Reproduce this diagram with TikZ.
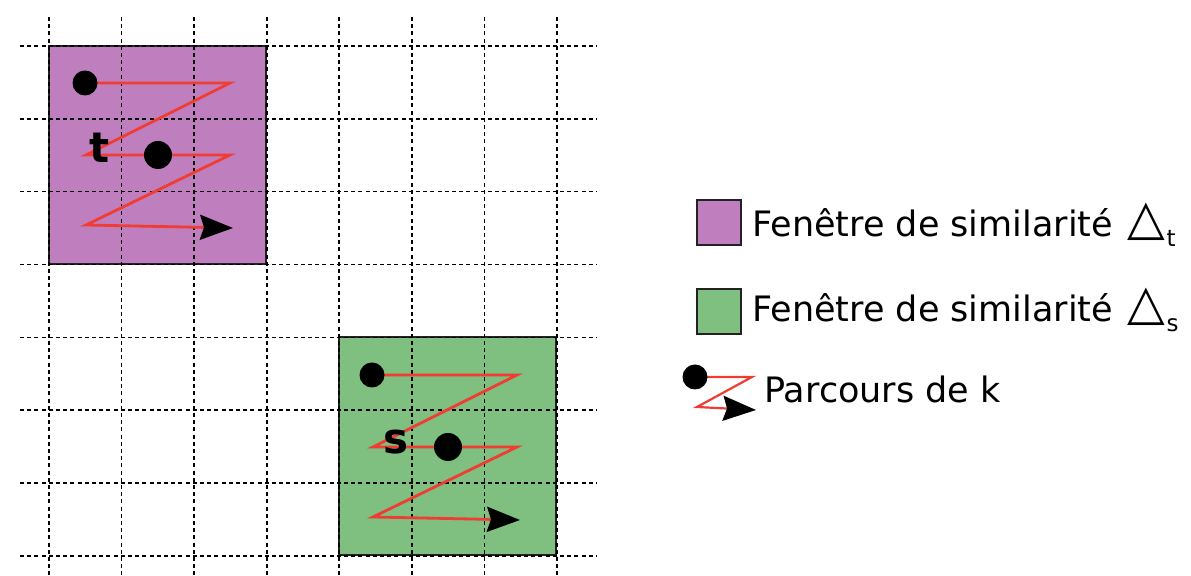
\documentclass[tikz,border=0pt]{standalone}
\usepackage{fontspec}
\setmainfont{DejaVu Sans}
\usetikzlibrary{arrows.meta}
\definecolor{wpurple}{HTML}{BF7FBF}
\definecolor{wgreen}{HTML}{7FBF7F}
\definecolor{zred}{HTML}{F03C32}
\definecolor{edgegray}{HTML}{222222}
\newcommand{\tridelta}{\raisebox{1pt}{\scalebox{1.4}[1.4]{△}}}
\begin{document}
\begin{tikzpicture}[x=0.5pt,y=-0.5pt,
  gridline/.style={black, line width=0.8pt, dash pattern=on 2pt off 1.6pt},
  winbox/.style={draw=edgegray, line width=0.8pt, inner sep=0pt, outer sep=0pt, anchor=north west, minimum width=108.5pt, minimum height=109pt},
  legbox/.style={draw=edgegray, line width=0.8pt, inner sep=0pt, anchor=north west, minimum width=22pt, minimum height=22.5pt},
  zig/.style={zred, line width=1.4pt, line join=miter, -{Stealth[length=16.5pt,width=12.5pt,inset=2pt,color=black]}},
  dotA/.style={circle, fill=black, inner sep=0pt, minimum size=12.5pt},
  dotB/.style={circle, fill=black, inner sep=0pt, minimum size=14pt},
  lbl/.style={inner sep=0pt, anchor=base, font=\fontsize{21pt}{24pt}\selectfont\bfseries},
  legtext/.style={inner sep=0pt, anchor=base west, font=\fontsize{17.5pt}{20pt}\selectfont}
]
\useasboundingbox (0,0) rectangle (1191,576);
% similarity windows
\node[winbox, fill=wpurple] (wt) at (49,46) {};
\node[winbox, fill=wgreen] (ws) at (339,337) {};
% grid
\foreach \i in {0,...,7}
  \draw[gridline] ({49+72.57*\i},17) -- ({49+72.57*\i},576);
\foreach \j in {0,...,7}
  \draw[gridline] (20,{46+72.85*\j}) -- (597,{46+72.85*\j});
% path in window t
\begin{scope}[shift={(49,46)}]
  \coordinate (ta) at (36,37);
  \coordinate (tb) at (181,37);
  \coordinate (tc) at (37,109);
  \coordinate (td) at (181,109);
  \coordinate (te) at (37,179);
  \coordinate (tf) at (184,182);
  \draw[zig] (ta) -- (tb) -- (tc) -- (td) -- (te) -- (tf);
  \node[dotA] (tdot1) at (ta) {};
  \node[dotB] (tdot2) at (109,109) {};
\end{scope}
\node[lbl] (tlab) at (100,163) {t};
% path in window s
\begin{scope}[shift={(339,337)}]
  \coordinate (sa) at (33,38);
  \coordinate (sb) at (178,38);
  \coordinate (sc) at (34,110);
  \coordinate (sd) at (178,110);
  \coordinate (se) at (34,180);
  \coordinate (sf) at (181,183);
  \draw[zig] (sa) -- (sb) -- (sc) -- (sd) -- (se) -- (sf);
  \node[dotA] (sdot1) at (sa) {};
  \node[dotB] (sdot2) at (109,110) {};
\end{scope}
\node[lbl] (slab) at (396,454) {s};
% legend
\node[legbox, fill=wpurple] (lt) at (696,199) {};
\node[legbox, fill=wgreen] (ls) at (696,288) {};
\node[legtext] (ltt) at (752,237) {Fenêtre de similarité\hspace{7pt}\tridelta\hspace{1pt}\raisebox{-5pt}{\fontsize{11.5pt}{12pt}\selectfont t}};
\node[legtext] (lst) at (752,322) {Fenêtre de similarité\hspace{7pt}\tridelta\hspace{1pt}\raisebox{-5pt}{\fontsize{11.5pt}{12pt}\selectfont s}};
\coordinate (ka) at (695,377);
\coordinate (kb) at (752,377);
\coordinate (kc) at (697,407);
\coordinate (kd) at (756,410);
\draw[zig, line width=1.1pt] (ka) -- (kb) -- (kc) -- (kd);
\node[dotA] (kdot) at (ka) {};
\node[legtext] (lkt) at (764,403) {Parcours de k};
\end{tikzpicture}
\end{document}
